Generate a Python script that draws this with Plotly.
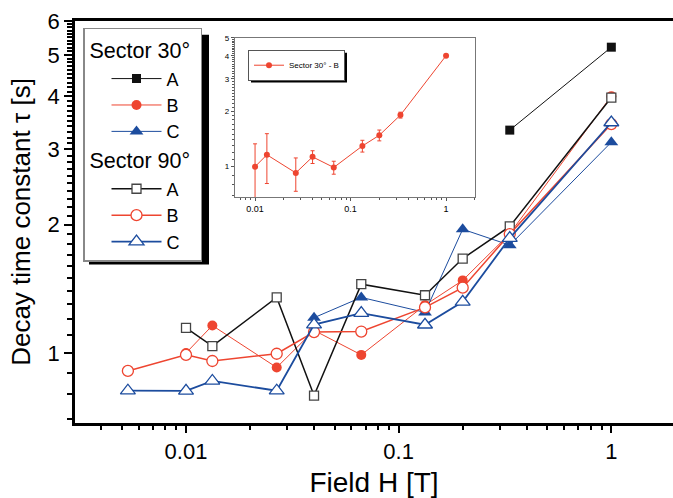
import plotly.graph_objects as go

# ---------------- data ----------------
field_30A = [0.333, 1.0]
tau_30A = [3.33, 5.21]

field_30B = [0.01, 0.0133, 0.0267, 0.04, 0.0667, 0.133, 0.2, 0.333, 1.0]
tau_30B = [1.0, 1.16, 0.925, 1.13, 0.99, 1.295, 1.48, 1.905, 4.0]
err_30B = [0.33, 0.35, 0.19, 0.09, 0.08, 0.095, 0.1, 0.07, 0.04]

field_30C = [0.04, 0.0667, 0.133, 0.2, 0.333, 1.0]
tau_30C = [1.21, 1.35, 1.245, 1.95, 1.79, 3.12]

field_90A = [0.01, 0.0133, 0.0267, 0.04, 0.0667, 0.133, 0.2, 0.333, 1.0]
tau_90A = [1.145, 1.038, 1.35, 0.795, 1.45, 1.366, 1.665, 1.98, 3.97]

field_90B = [0.00533, 0.01, 0.0133, 0.0267, 0.04, 0.0667, 0.133, 0.2, 0.333, 1.0]
tau_90B = [0.908, 0.99, 0.958, 0.996, 1.12, 1.123, 1.279, 1.423, 1.90, 3.44]

field_90C = [0.00533, 0.01, 0.0133, 0.0267, 0.04, 0.0667, 0.133, 0.2, 0.333, 1.0]
tau_90C = [0.816, 0.815, 0.86, 0.816, 1.166, 1.24, 1.165, 1.318, 1.86, 3.47]

x_ticks = [0.01, 0.1, 1]
x_ticklabels = ["0.01", "0.1", "1"]
y_ticks = [1, 2, 3, 4, 5, 6]
y_ticklabels = ["1", "2", "3", "4", "5", "6"]
inset_y_ticks = [1, 2, 3, 4, 5]

RED = "#EE4530"
BLUE = "#1C4C9E"
BLACK = "#111111"
FONT = "Liberation Sans, Arial, sans-serif"

x_minor = [m * 10 ** e for e in (-3, -2, -1, 0) for m in range(2, 10)]
y_minor = [round(0.1 * k, 1) for k in range(7, 61) if k % 10 != 0]

fig = go.Figure()

g30 = dict(legendgroup="s30", legendgrouptitle=dict(text="Sector 30°", font=dict(size=21.5, color="black")))
g90 = dict(legendgroup="s90", legendgrouptitle=dict(text="Sector 90°", font=dict(size=21.5, color="black")))

fig.add_trace(go.Scatter(x=field_30A, y=tau_30A, name="A", mode="lines+markers",
                         line=dict(color=BLACK, width=1),
                         marker=dict(symbol="square", size=9, color=BLACK), **g30))
fig.add_trace(go.Scatter(x=field_30B, y=tau_30B, name="B", mode="lines+markers",
                         line=dict(color=RED, width=1),
                         marker=dict(symbol="circle", size=10, color=RED), **g30))
fig.add_trace(go.Scatter(x=field_30C, y=tau_30C, name="C", mode="lines+markers",
                         line=dict(color=BLUE, width=1),
                         marker=dict(symbol="triangle-up", size=12, color=BLUE), **g30))
fig.add_trace(go.Scatter(x=field_90A, y=tau_90A, name="A", mode="lines+markers",
                         line=dict(color=BLACK, width=1.5),
                         marker=dict(symbol="square", size=9, color="white",
                                     line=dict(color="#444444", width=1.3)), **g90))
fig.add_trace(go.Scatter(x=field_90B, y=tau_90B, name="B", mode="lines+markers",
                         line=dict(color=RED, width=1.5),
                         marker=dict(symbol="circle", size=11, color="white",
                                     line=dict(color=RED, width=1.3)), **g90))
fig.add_trace(go.Scatter(x=field_90C, y=tau_90C, name="C", mode="lines+markers",
                         line=dict(color=BLUE, width=1.8),
                         marker=dict(symbol="triangle-up", size=13, color="white",
                                     line=dict(color=BLUE, width=1.3)), **g90))

# inset
fig.add_trace(go.Scatter(x=field_30B, y=tau_30B, name="Sector 30° - B", mode="lines+markers",
                         xaxis="x2", yaxis="y2", legend="legend2",
                         line=dict(color=RED, width=1),
                         marker=dict(symbol="circle", size=6, color=RED),
                         error_y=dict(type="data", array=err_30B, color=RED, thickness=1, width=2)))

L, R, T, B = 75, 0, 21, 71
W, H = 673, 498
pw, ph = W - L - R, H - T - B


def px(x):
    return (x - L) / pw


def py(y):
    return (H - B - y) / ph


fig.update_layout(
    width=W, height=H,
    margin=dict(l=L, r=R, t=T, b=B),
    paper_bgcolor="white", plot_bgcolor="white",
    font=dict(family=FONT, color="black"),
    xaxis=dict(type="log", range=[-2.522, 0.29],
               tickvals=x_ticks, ticktext=x_ticklabels, tickfont=dict(size=22),
               ticks="outside", ticklen=7, tickwidth=1.5, tickcolor="black",
               showline=True, linecolor="black", linewidth=2.5, mirror=True,
               showgrid=False, zeroline=False,
               minor=dict(tickvals=x_minor, ticks="outside", ticklen=4, tickwidth=1.5, tickcolor="black", showgrid=False),
               title=dict(text="Field H [T]", font=dict(size=28), standoff=14)),
    yaxis=dict(type="log", range=[-0.164, 0.7782],
               tickvals=y_ticks, ticktext=y_ticklabels, tickfont=dict(size=22),
               ticks="outside", ticklen=8, tickwidth=1.5, tickcolor="black",
               showline=True, linecolor="black", linewidth=2.5,
               showgrid=False, zeroline=False,
               minor=dict(tickvals=y_minor, ticks="outside", ticklen=5, tickwidth=1.5, tickcolor="black", showgrid=False),
               title=dict(text="Decay time constant τ [s]", font=dict(size=26), standoff=10)),
    xaxis2=dict(type="log", range=[-2.21, 0.303], domain=[px(235), px(475)], anchor="y2",
                tickvals=x_ticks, ticktext=x_ticklabels, tickfont=dict(size=9),
                ticks="outside", ticklen=3, tickwidth=1, tickcolor="#555",
                showline=True, linecolor="#777777", linewidth=1.3, mirror=True,
                showgrid=False, zeroline=False,
                minor=dict(tickvals=x_minor, ticks="outside", ticklen=2, tickwidth=1, tickcolor="#555", showgrid=False)),
    yaxis2=dict(type="log", range=[-0.166, 0.699], domain=[py(199), py(38)], anchor="x2",
                tickvals=inset_y_ticks, tickfont=dict(size=8),
                ticks="outside", ticklen=3, tickwidth=1, tickcolor="#555",
                showline=True, linecolor="#777777", linewidth=1.3, mirror=True,
                showgrid=False, zeroline=False,
                minor=dict(tickvals=[v for v in y_minor if v < 5], ticks="outside", ticklen=2, tickwidth=1, tickcolor="#555", showgrid=False)),
    legend=dict(x=px(83), y=py(28), xanchor="left", yanchor="top",
                bgcolor="white", bordercolor="#888888", borderwidth=1.5,
                font=dict(size=18, color="black"), tracegroupgap=0,
                indentation=22, itemwidth=50,
                itemsizing="trace"),
    legend2=dict(x=px(248), y=py(50), xanchor="left", yanchor="top",
                 bgcolor="white", bordercolor="#555555", borderwidth=1,
                 font=dict(size=8, color="black"), itemwidth=30),
    showlegend=True,
)

# legend drop shadows
fig.add_shape(type="rect", xref="paper", yref="paper",
              x0=px(89), x1=px(209), y0=py(267), y1=py(35),
              fillcolor="black", line=dict(width=0), layer="above")
fig.add_shape(type="rect", xref="paper", yref="paper",
              x0=px(251), x1=px(347), y0=py(83), y1=py(53),
              fillcolor="black", line=dict(width=0), layer="above")

fig.write_html("out.html")
